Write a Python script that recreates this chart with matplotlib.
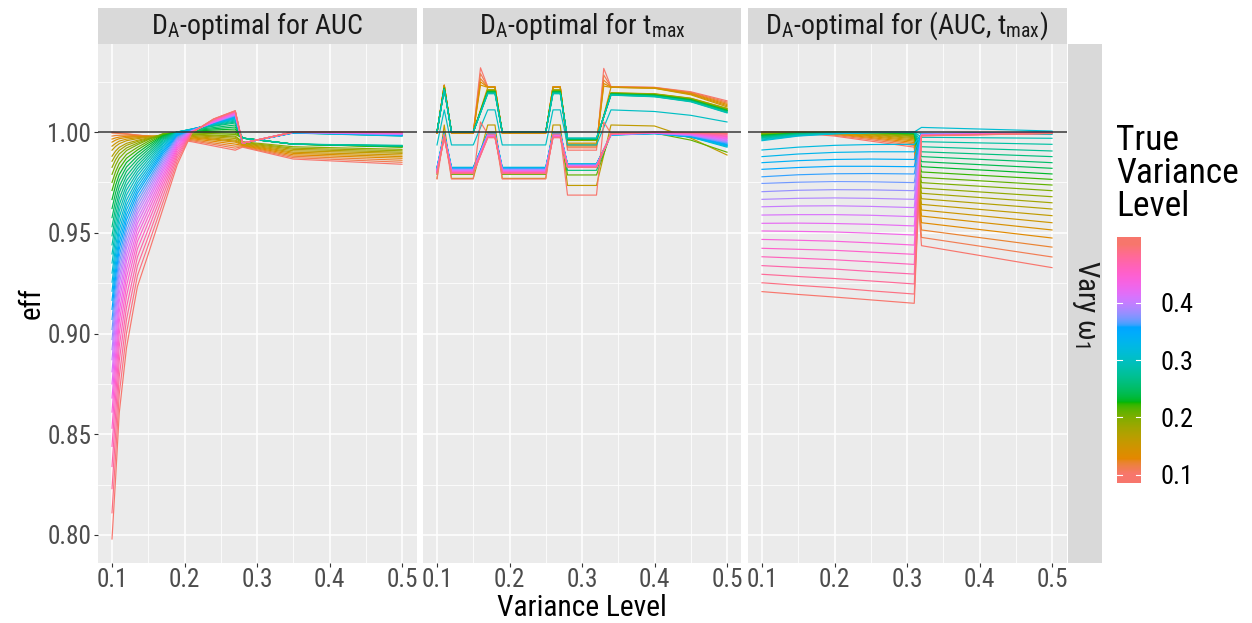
import numpy as np
import matplotlib
matplotlib.use("Agg")
import matplotlib.pyplot as plt
from matplotlib import font_manager
from matplotlib.ticker import FixedLocator

# prefer a condensed sans face when one is installed
family, stretch = "Liberation Sans", "normal"
for pref in ["Liberation Sans Narrow", "Roboto Condensed", "Noto Sans", "DejaVu Sans", "Open Sans"]:
    hits = [f for f in font_manager.fontManager.ttflist
            if f.name.startswith(pref) and f.style == "normal"
            and (f.stretch in ("condensed", "semi-condensed") or "Narrow" in f.name or "Condensed" in f.name)]
    if hits:
        family, stretch = hits[0].name, hits[0].stretch
        break
plt.rcParams["font.family"] = [family, "Liberation Sans", "DejaVu Sans"]
plt.rcParams["font.stretch"] = stretch
plt.rcParams["mathtext.fontset"] = "stix"

# true variance levels, one line per level in every panel
true_levels = [0.10, 0.11, 0.12, 0.13, 0.14, 0.15, 0.16, 0.17, 0.18, 0.19,
               0.20, 0.21, 0.22, 0.23, 0.24, 0.25, 0.26, 0.27, 0.28, 0.29,
               0.30, 0.31, 0.32, 0.33, 0.34, 0.35, 0.36, 0.37, 0.38, 0.39,
               0.40, 0.41, 0.42, 0.43, 0.44, 0.45, 0.46, 0.47, 0.48, 0.49, 0.50]

# D_A-optimal for AUC: efficiency at each design variance level
auc_x = [0.10, 0.105, 0.11, 0.12, 0.135, 0.15, 0.17, 0.19, 0.21, 0.24, 0.27, 0.28, 0.35, 0.50]
auc_eff = [
    [1.0, 0.9998, 0.9996, 0.9992, 0.9985, 0.9979, 0.997, 0.9962, 0.9952, 0.9931, 0.991, 0.9925, 0.9866, 0.984],
    [0.9995, 0.9994, 0.9993, 0.999, 0.9985, 0.998, 0.9973, 0.9966, 0.9957, 0.9939, 0.992, 0.9928, 0.9873, 0.985],
    [0.998, 0.9983, 0.9984, 0.9985, 0.9982, 0.998, 0.9976, 0.997, 0.9962, 0.9946, 0.993, 0.9931, 0.988, 0.986],
    [0.9965, 0.9971, 0.9975, 0.9979, 0.9979, 0.9979, 0.9978, 0.9974, 0.9967, 0.9954, 0.994, 0.9934, 0.9887, 0.987],
    [0.995, 0.996, 0.9967, 0.9973, 0.9976, 0.9979, 0.9981, 0.9978, 0.9971, 0.9961, 0.995, 0.9937, 0.9894, 0.9878],
    [0.993, 0.9944, 0.9955, 0.9965, 0.9972, 0.9977, 0.9982, 0.9981, 0.9975, 0.9965, 0.9955, 0.994, 0.99, 0.9886],
    [0.991, 0.9929, 0.9942, 0.9957, 0.9967, 0.9975, 0.9984, 0.9984, 0.9979, 0.997, 0.996, 0.9943, 0.9907, 0.9894],
    [0.988, 0.9906, 0.9924, 0.9944, 0.9959, 0.9971, 0.9985, 0.9987, 0.9983, 0.9976, 0.9968, 0.9946, 0.9914, 0.99],
    [0.9855, 0.9886, 0.9909, 0.9934, 0.9953, 0.9968, 0.9986, 0.999, 0.9987, 0.9981, 0.9975, 0.9949, 0.992, 0.9907],
    [0.9825, 0.9863, 0.9891, 0.9921, 0.9945, 0.9965, 0.9988, 0.9993, 0.999, 0.9985, 0.998, 0.9952, 0.9927, 0.9914],
    [0.979, 0.9836, 0.987, 0.9908, 0.9937, 0.9962, 0.9992, 0.9997, 0.9995, 0.9992, 0.9988, 0.997, 0.994, 0.9925],
    [0.975, 0.9804, 0.9844, 0.9889, 0.9924, 0.9954, 0.9989, 0.9999, 0.9998, 0.9997, 0.9995, 0.997, 0.994, 0.9926],
    [0.971, 0.9772, 0.9818, 0.987, 0.9911, 0.9945, 0.9985, 0.9999, 1.0001, 1.0003, 1.0005, 0.997, 0.994, 0.9927],
    [0.9665, 0.9736, 0.9789, 0.9849, 0.9896, 0.9935, 0.9981, 1.0, 1.0004, 1.001, 1.0015, 0.997, 0.994, 0.9928],
    [0.962, 0.9699, 0.976, 0.9827, 0.9881, 0.9924, 0.9977, 1.0, 1.0007, 1.0016, 1.0025, 0.997, 0.994, 0.9929],
    [0.9575, 0.9662, 0.973, 0.9805, 0.9865, 0.9913, 0.9972, 1.0, 1.001, 1.0022, 1.0035, 0.997, 0.994, 0.993],
    [0.953, 0.9625, 0.97, 0.9782, 0.9849, 0.9901, 0.9966, 1.0, 1.0012, 1.0029, 1.0045, 0.997, 0.994, 0.9931],
    [0.9485, 0.9588, 0.967, 0.9759, 0.9833, 0.9889, 0.996, 1.0, 1.0013, 1.0032, 1.005, 0.997, 0.994, 0.9932],
    [0.944, 0.955, 0.9639, 0.9736, 0.9817, 0.9877, 0.9953, 1.0, 1.0014, 1.0035, 1.0055, 0.997, 0.994, 0.9934],
    [0.9395, 0.9512, 0.9609, 0.9712, 0.98, 0.9864, 0.9946, 1.0, 1.0015, 1.0038, 1.006, 0.9945, 0.9995, 0.998],
    [0.935, 0.9474, 0.9578, 0.9688, 0.9783, 0.985, 0.9939, 1.0, 1.0015, 1.004, 1.0065, 0.9945, 0.9996, 0.9981],
    [0.93, 0.9432, 0.9544, 0.9662, 0.9764, 0.9836, 0.993, 0.9997, 1.0014, 1.0041, 1.0068, 0.9945, 0.9996, 0.9982],
    [0.9255, 0.9394, 0.9513, 0.9638, 0.9747, 0.9822, 0.9922, 0.9994, 1.0013, 1.0042, 1.007, 0.9945, 0.9996, 0.9983],
    [0.921, 0.9355, 0.9482, 0.9614, 0.973, 0.9808, 0.9912, 0.9991, 1.0012, 1.0043, 1.0073, 0.9945, 0.9997, 0.9984],
    [0.9165, 0.9317, 0.9451, 0.9589, 0.9712, 0.9794, 0.9903, 0.9987, 1.001, 1.0044, 1.0076, 0.9945, 0.9997, 0.9985],
    [0.912, 0.9278, 0.9419, 0.9564, 0.9695, 0.978, 0.9893, 0.9982, 1.0009, 1.0045, 1.0078, 0.9945, 0.9997, 0.9986],
    [0.907, 0.9236, 0.9384, 0.9537, 0.9675, 0.9763, 0.9881, 0.9978, 1.0008, 1.0046, 1.008, 0.9945, 0.9998, 0.9987],
    [0.902, 0.9193, 0.9349, 0.9509, 0.9655, 0.9747, 0.9869, 0.9973, 1.0007, 1.0047, 1.0082, 0.9945, 0.9998, 0.9988],
    [0.897, 0.9149, 0.9314, 0.9481, 0.9635, 0.973, 0.9857, 0.9967, 1.0006, 1.0048, 1.0084, 0.9945, 0.9998, 0.9989],
    [0.892, 0.9106, 0.9279, 0.9452, 0.9614, 0.9713, 0.9844, 0.9961, 1.0005, 1.0049, 1.0086, 0.9945, 0.9999, 0.999],
    [0.887, 0.9062, 0.9243, 0.9424, 0.9593, 0.9695, 0.9831, 0.9955, 1.0005, 1.005, 1.0088, 0.9945, 0.9999, 0.9991],
    [0.881, 0.901, 0.92, 0.9391, 0.9569, 0.9675, 0.9817, 0.9948, 1.0004, 1.0049, 1.009, 0.9945, 0.9999, 0.9992],
    [0.875, 0.8958, 0.9158, 0.9358, 0.9545, 0.9655, 0.9803, 0.994, 1.0003, 1.0051, 1.0092, 0.9945, 0.9999, 0.9993],
    [0.868, 0.8897, 0.9108, 0.9319, 0.9517, 0.9632, 0.9786, 0.9931, 1.0002, 1.0053, 1.0094, 0.9945, 1.0, 0.9994],
    [0.861, 0.8835, 0.9058, 0.928, 0.9488, 0.9608, 0.9769, 0.9922, 1.0001, 1.0055, 1.0096, 0.9945, 1.0, 0.9995],
    [0.853, 0.8765, 0.9, 0.9236, 0.9456, 0.9581, 0.975, 0.9912, 1.0, 1.0057, 1.0098, 0.9945, 1.0, 0.9996],
    [0.844, 0.8687, 0.8936, 0.9186, 0.942, 0.9551, 0.9729, 0.99, 0.9999, 1.0059, 1.01, 0.9945, 1.0, 0.9997],
    [0.834, 0.8599, 0.8865, 0.913, 0.9379, 0.9517, 0.9705, 0.9887, 0.9998, 1.0061, 1.0102, 0.9945, 1.0, 0.9998],
    [0.823, 0.8503, 0.8786, 0.9069, 0.9335, 0.948, 0.9678, 0.9873, 0.9997, 1.0063, 1.0104, 0.9945, 1.0, 0.9999],
    [0.811, 0.8397, 0.87, 0.9002, 0.9286, 0.9439, 0.9648, 0.9856, 0.9996, 1.0064, 1.0105, 0.9945, 1.0, 1.0],
    [0.798, 0.8283, 0.8606, 0.8929, 0.9232, 0.9394, 0.9616, 0.9838, 0.9995, 1.0065, 1.0106, 0.9945, 1.0, 1.0],
]

# D_A-optimal for t_max
tmax_x = [0.10, 0.11, 0.12, 0.15, 0.16, 0.17, 0.18, 0.19, 0.25, 0.26, 0.27, 0.28, 0.32, 0.33, 0.34, 0.40, 0.45, 0.50]
tmax_eff = [
    [0.9994, 1.0233, 0.9994, 0.9994, 1.0319, 1.0225, 1.0225, 0.9994, 0.9994, 1.0225, 1.0225, 0.991, 0.991, 1.0316, 1.0225, 1.0222, 1.02, 1.0155],
    [0.9994, 1.0233, 0.9994, 0.9994, 1.029, 1.0225, 1.0225, 0.9994, 0.9994, 1.0225, 1.0225, 0.9922, 0.9922, 1.0283, 1.0225, 1.0221, 1.0197, 1.0149],
    [0.9995, 1.0232, 0.9995, 0.9995, 1.0265, 1.0224, 1.0224, 0.9995, 0.9995, 1.0224, 1.0224, 0.993, 0.993, 1.0258, 1.0224, 1.022, 1.0194, 1.0143],
    [0.9995, 1.0232, 0.9995, 0.9995, 1.0249, 1.0223, 1.0223, 0.9995, 0.9995, 1.0223, 1.0223, 0.9935, 0.9935, 1.0241, 1.0223, 1.0219, 1.0191, 1.0137],
    [0.9996, 1.0231, 0.9996, 0.9996, 1.0233, 1.0222, 1.0222, 0.9996, 0.9996, 1.0222, 1.0222, 0.994, 0.994, 1.0228, 1.0222, 1.0218, 1.0188, 1.0131],
    [0.9996, 1.0231, 0.9996, 0.9996, 1.011, 1.0222, 1.0222, 0.9996, 0.9996, 1.0222, 1.0222, 0.9945, 0.9945, 1.0083, 1.0222, 1.0217, 1.0185, 1.0125],
    [0.977, 1.0035, 0.977, 0.977, 0.9902, 1.0035, 1.0035, 0.977, 0.977, 1.0035, 1.0035, 0.9735, 0.9735, 0.9885, 1.0035, 1.003, 0.997, 0.9886],
    [1.0, 1.0222, 1.0, 1.0, 1.0105, 1.021, 1.021, 1.0, 1.0, 1.021, 1.021, 0.9958, 0.9958, 1.0077, 1.0195, 1.019, 1.0168, 1.0118],
    [1.0, 1.0221, 1.0, 1.0, 1.0104, 1.0208, 1.0208, 1.0, 1.0, 1.0208, 1.0208, 0.9959, 0.9959, 1.0077, 1.0194, 1.0189, 1.0167, 1.0116],
    [1.0, 1.022, 1.0, 1.0, 1.0104, 1.0207, 1.0207, 1.0, 1.0, 1.0207, 1.0207, 0.996, 0.996, 1.0077, 1.0193, 1.0188, 1.0165, 1.0114],
    [1.0, 1.0219, 1.0, 1.0, 1.0103, 1.0205, 1.0205, 1.0, 1.0, 1.0205, 1.0205, 0.9961, 0.9961, 1.0077, 1.0192, 1.0186, 1.0164, 1.0112],
    [0.979, 1.0, 0.979, 0.979, 0.9895, 1.0, 1.0, 0.979, 0.979, 1.0, 1.0, 0.9787, 0.9787, 0.9891, 0.9995, 0.9995, 0.996, 0.99],
    [1.0, 1.0217, 1.0, 1.0, 1.0101, 1.0202, 1.0202, 1.0, 1.0, 1.0202, 1.0202, 0.9963, 0.9963, 1.0077, 1.019, 1.0184, 1.0161, 1.0108],
    [1.0, 1.0216, 1.0, 1.0, 1.01, 1.02, 1.02, 1.0, 1.0, 1.02, 1.02, 0.9964, 0.9964, 1.0076, 1.0189, 1.0183, 1.0159, 1.0107],
    [1.0, 1.0215, 1.0, 1.0, 1.0099, 1.0198, 1.0198, 1.0, 1.0, 1.0198, 1.0198, 0.9965, 0.9965, 1.0076, 1.0188, 1.0181, 1.0158, 1.0105],
    [1.0, 1.0214, 1.0, 1.0, 1.0099, 1.0197, 1.0197, 1.0, 1.0, 1.0197, 1.0197, 0.9966, 0.9966, 1.0076, 1.0187, 1.018, 1.0156, 1.0103],
    [0.9805, 0.9995, 0.9805, 0.9805, 0.99, 0.9995, 0.9995, 0.9805, 0.9805, 0.9995, 0.9995, 0.981, 0.981, 0.9902, 0.9995, 0.9995, 0.9975, 0.9935],
    [1.0, 1.0212, 1.0, 1.0, 1.0097, 1.0193, 1.0193, 1.0, 1.0, 1.0193, 1.0193, 0.9968, 0.9968, 1.0076, 1.0185, 1.0178, 1.0153, 1.0099],
    [1.0, 1.0211, 1.0, 1.0, 1.0096, 1.0192, 1.0192, 1.0, 1.0, 1.0192, 1.0192, 0.9969, 0.9969, 1.0076, 1.0184, 1.0176, 1.0152, 1.0097],
    [1.0, 1.021, 1.0, 1.0, 1.0095, 1.019, 1.019, 1.0, 1.0, 1.019, 1.019, 0.997, 0.997, 1.0077, 1.0183, 1.0175, 1.015, 1.0095],
    [0.9936, 1.011, 0.9936, 0.9936, 1.0023, 1.011, 1.011, 0.9936, 0.9936, 1.011, 1.011, 0.9936, 0.9936, 1.0023, 1.011, 1.0102, 1.0083, 1.005],
    [0.9825, 0.9995, 0.9825, 0.9825, 0.991, 0.9995, 0.9995, 0.9825, 0.9825, 0.9995, 0.9995, 0.9842, 0.9842, 0.9914, 0.9985, 0.9992, 0.9975, 0.9925],
    [0.9823, 0.9994, 0.9823, 0.9823, 0.9909, 0.9994, 0.9994, 0.9823, 0.9823, 0.9994, 0.9994, 0.9841, 0.9841, 0.9913, 0.9985, 0.9992, 0.9976, 0.9929],
    [0.9822, 0.9992, 0.9822, 0.9822, 0.9907, 0.9992, 0.9992, 0.9822, 0.9822, 0.9992, 0.9992, 0.984, 0.984, 0.9913, 0.9986, 0.9993, 0.9978, 0.9932],
    [0.982, 0.9991, 0.982, 0.982, 0.9906, 0.9991, 0.9991, 0.982, 0.982, 0.9991, 0.9991, 0.9839, 0.9839, 0.9913, 0.9986, 0.9993, 0.9979, 0.9936],
    [0.9818, 0.999, 0.9818, 0.9818, 0.9904, 0.999, 0.999, 0.9818, 0.9818, 0.999, 0.999, 0.9838, 0.9838, 0.9913, 0.9987, 0.9994, 0.998, 0.994],
    [0.9817, 0.9989, 0.9817, 0.9817, 0.9903, 0.9989, 0.9989, 0.9817, 0.9817, 0.9989, 0.9989, 0.9837, 0.9837, 0.9912, 0.9987, 0.9994, 0.9982, 0.9944],
    [0.9815, 0.9987, 0.9815, 0.9815, 0.9901, 0.9987, 0.9987, 0.9815, 0.9815, 0.9987, 0.9987, 0.9836, 0.9836, 0.9912, 0.9987, 0.9994, 0.9983, 0.9947],
    [0.9813, 0.9986, 0.9813, 0.9813, 0.99, 0.9986, 0.9986, 0.9813, 0.9813, 0.9986, 0.9986, 0.9835, 0.9835, 0.9912, 0.9988, 0.9995, 0.9984, 0.9951],
    [0.9811, 0.9985, 0.9811, 0.9811, 0.9898, 0.9985, 0.9985, 0.9811, 0.9811, 0.9985, 0.9985, 0.9834, 0.9834, 0.9911, 0.9988, 0.9995, 0.9985, 0.9955],
    [0.981, 0.9983, 0.981, 0.981, 0.9897, 0.9983, 0.9983, 0.981, 0.981, 0.9983, 0.9983, 0.9833, 0.9833, 0.9911, 0.9989, 0.9996, 0.9987, 0.9958],
    [0.9808, 0.9982, 0.9808, 0.9808, 0.9895, 0.9982, 0.9982, 0.9808, 0.9808, 0.9982, 0.9982, 0.9832, 0.9832, 0.9911, 0.9989, 0.9996, 0.9988, 0.9962],
    [0.9806, 0.9981, 0.9806, 0.9806, 0.9894, 0.9981, 0.9981, 0.9806, 0.9806, 0.9981, 0.9981, 0.9831, 0.9831, 0.991, 0.9989, 0.9996, 0.9989, 0.9966],
    [0.9805, 0.9979, 0.9805, 0.9805, 0.9892, 0.9979, 0.9979, 0.9805, 0.9805, 0.9979, 0.9979, 0.983, 0.983, 0.991, 0.999, 0.9997, 0.9991, 0.9969],
    [0.9803, 0.9978, 0.9803, 0.9803, 0.9891, 0.9978, 0.9978, 0.9803, 0.9803, 0.9978, 0.9978, 0.9829, 0.9829, 0.991, 0.999, 0.9997, 0.9992, 0.9973],
    [0.9801, 0.9977, 0.9801, 0.9801, 0.9889, 0.9977, 0.9977, 0.9801, 0.9801, 0.9977, 0.9977, 0.9828, 0.9828, 0.991, 0.9991, 0.9998, 0.9993, 0.9977],
    [0.9799, 0.9976, 0.9799, 0.9799, 0.9888, 0.9976, 0.9976, 0.9799, 0.9799, 0.9976, 0.9976, 0.9827, 0.9827, 0.9909, 0.9991, 0.9998, 0.9995, 0.998],
    [0.9798, 0.9974, 0.9798, 0.9798, 0.9886, 0.9974, 0.9974, 0.9798, 0.9798, 0.9974, 0.9974, 0.9826, 0.9826, 0.9909, 0.9991, 0.9998, 0.9996, 0.9984],
    [0.9796, 0.9973, 0.9796, 0.9796, 0.9885, 0.9973, 0.9973, 0.9796, 0.9796, 0.9973, 0.9973, 0.9825, 0.9825, 0.9909, 0.9992, 0.9999, 0.9997, 0.9988],
    [0.9794, 0.9972, 0.9794, 0.9794, 0.9883, 0.9972, 0.9972, 0.9794, 0.9794, 0.9972, 0.9972, 0.9824, 0.9824, 0.9908, 0.9992, 0.9999, 0.9998, 0.9992],
    [0.9767, 0.999, 0.9767, 0.9767, 1.005, 0.999, 0.999, 0.9767, 0.9767, 0.999, 0.999, 0.9687, 0.9687, 1.005, 0.9993, 1.0, 0.9997, 0.9995],
]

# D_A-optimal for (AUC, t_max)
both_x = [0.10, 0.15, 0.20, 0.25, 0.31, 0.32, 0.50]
both_eff = [
    [1.0, 0.9995, 0.998, 0.9955, 0.9925, 0.9436, 0.9327],
    [1.0, 0.9997, 0.9984, 0.9962, 0.9933, 0.9477, 0.938],
    [0.9999, 0.9998, 0.9988, 0.9968, 0.9941, 0.9514, 0.9429],
    [0.9999, 0.9999, 0.9991, 0.9973, 0.9948, 0.955, 0.9474],
    [0.9998, 1.0, 0.9993, 0.9978, 0.9955, 0.9583, 0.9514],
    [0.9997, 1.0, 0.9995, 0.9982, 0.9961, 0.9613, 0.955],
    [0.9996, 1.0, 0.9997, 0.9986, 0.9967, 0.9641, 0.9585],
    [0.9995, 0.9999, 0.9998, 0.9989, 0.9972, 0.9669, 0.9618],
    [0.9993, 0.9999, 0.9999, 0.9992, 0.9977, 0.9696, 0.9649],
    [0.9991, 0.9998, 1.0, 0.9994, 0.9981, 0.9722, 0.9679],
    [0.9989, 0.9997, 1.0, 0.9996, 0.9985, 0.9749, 0.9709],
    [0.9987, 0.9996, 1.0, 0.9997, 0.9988, 0.9775, 0.9737],
    [0.9985, 0.9995, 0.9999, 0.9998, 0.9991, 0.9802, 0.9765],
    [0.9983, 0.9994, 0.9999, 0.9999, 0.9993, 0.9828, 0.9792],
    [0.9981, 0.9993, 0.9998, 1.0, 0.9995, 0.9853, 0.982],
    [0.9978, 0.9992, 0.9997, 1.0, 0.9997, 0.9878, 0.9848],
    [0.9975, 0.999, 0.9996, 1.0, 0.9998, 0.9902, 0.9878],
    [0.9972, 0.9988, 0.9995, 0.9999, 0.9999, 0.9927, 0.9906],
    [0.9969, 0.9986, 0.9994, 0.9999, 1.0, 0.9952, 0.9939],
    [0.9965, 0.9984, 0.9993, 0.9998, 1.0, 0.9974, 0.9969],
    [0.9961, 0.9982, 0.9992, 0.9997, 1.0, 0.9993, 0.9988],
    [0.9957, 0.998, 0.9991, 0.9996, 1.0, 1.0023, 1.0005],
    [0.9911, 0.9925, 0.9934, 0.9938, 0.9939, 0.9992, 1.0],
    [0.9878, 0.9891, 0.9899, 0.9902, 0.9902, 0.9991, 1.0],
    [0.9848, 0.9858, 0.9864, 0.9866, 0.9864, 0.9991, 0.9999],
    [0.9815, 0.9824, 0.983, 0.983, 0.9828, 0.999, 0.9999],
    [0.9778, 0.9788, 0.9793, 0.9794, 0.9792, 0.999, 0.9998],
    [0.9745, 0.9751, 0.9754, 0.9753, 0.9749, 0.9989, 0.9998],
    [0.9704, 0.9711, 0.9714, 0.9713, 0.9709, 0.9988, 0.9998],
    [0.9666, 0.9671, 0.9673, 0.9671, 0.9666, 0.9988, 0.9997],
    [0.9629, 0.9633, 0.9634, 0.9631, 0.9625, 0.9987, 0.9997],
    [0.9588, 0.959, 0.959, 0.9587, 0.958, 0.9987, 0.9996],
    [0.9547, 0.9548, 0.9546, 0.9542, 0.9534, 0.9986, 0.9996],
    [0.9509, 0.9507, 0.9504, 0.9498, 0.9489, 0.9985, 0.9996],
    [0.9467, 0.9463, 0.9458, 0.945, 0.9439, 0.9985, 0.9995],
    [0.9423, 0.9418, 0.9413, 0.9404, 0.9393, 0.9984, 0.9995],
    [0.9381, 0.9374, 0.9366, 0.9356, 0.9343, 0.9984, 0.9994],
    [0.9337, 0.9328, 0.932, 0.9308, 0.9295, 0.9983, 0.9994],
    [0.9294, 0.9283, 0.9273, 0.9261, 0.9246, 0.9982, 0.9994],
    [0.9252, 0.9239, 0.9227, 0.9212, 0.9196, 0.9982, 0.9993],
    [0.9208, 0.9194, 0.9181, 0.9167, 0.915, 0.9981, 0.9993],
]

panel_titles = [r"D$_\mathregular{A}$-optimal for AUC",
                r"D$_\mathregular{A}$-optimal for t$_\mathregular{max}$",
                r"D$_\mathregular{A}$-optimal for (AUC, t$_\mathregular{max}$)"]
x_ticks = [0.1, 0.2, 0.3, 0.4, 0.5]
y_ticks = [0.80, 0.85, 0.90, 0.95, 1.00]
legend_ticks = [0.1, 0.2, 0.3, 0.4]


def hcl_colour(h, c=100.0, l=65.0):
    # polar CIE-Luv -> sRGB, D65 white
    hr = np.deg2rad(h)
    u, v = c * np.cos(hr), c * np.sin(hr)
    y = ((l + 16.0) / 116.0) ** 3
    up = u / (13 * l) + 0.1978398
    vp = v / (13 * l) + 0.4683363
    x = 9.0 * y * up / (4.0 * vp)
    z = y * (12.0 - 3.0 * up - 20.0 * vp) / (4.0 * vp)
    m = np.array([[3.240479, -1.537150, -0.498535],
                  [-0.969256, 1.875992, 0.041556],
                  [0.055648, -0.204043, 1.057311]])
    lin = m @ np.array([x, y, z])
    rgb = np.where(lin > 0.0031308, 1.055 * np.abs(lin) ** (1 / 2.4) - 0.055, 12.92 * lin)
    return tuple(np.clip(rgb, 0, 1))


def level_colour(t):
    t = min(max(t, 0.1), 0.5)
    return hcl_colour(15 + 360 * (t - 0.1) / 0.4)


W, H = 1252, 623
fig = plt.figure(figsize=(W / 100, H / 100), dpi=100)


def px_box(left, top, right, bottom):
    return [left / W, 1 - bottom / H, (right - left) / W, (bottom - top) / H]


def blank(ax, colour):
    ax.set_facecolor(colour)
    ax.set_xticks([])
    ax.set_yticks([])
    for s in ax.spines.values():
        s.set_visible(False)


panel_data = [(auc_x, auc_eff), (tmax_x, tmax_eff), (both_x, both_eff)]
lefts = [97.5, 422.5, 747.5]
panel_axes, strip_texts = [], []
for i, ((xs, rows), left, title) in enumerate(zip(panel_data, lefts, panel_titles)):
    ax = fig.add_axes(px_box(left, 44, left + 319, 563))
    ax.set_facecolor("#EBEBEB")
    for s in ax.spines.values():
        s.set_visible(False)
    ax.set_xlim(0.08, 0.52)
    ax.set_ylim(0.7861, 1.0437)
    ax.xaxis.set_major_locator(FixedLocator(x_ticks))
    ax.xaxis.set_minor_locator(FixedLocator([0.15, 0.25, 0.35, 0.45]))
    ax.yaxis.set_major_locator(FixedLocator(y_ticks))
    ax.yaxis.set_minor_locator(FixedLocator([0.825, 0.875, 0.925, 0.975, 1.025]))
    ax.set_axisbelow(True)
    ax.grid(which="major", color="white", lw=1.1)
    ax.grid(which="minor", color="white", lw=0.55)
    ax.tick_params(which="minor", length=0)
    ax.tick_params(which="major", length=3.0, width=0.8, color="#333333",
                   labelcolor="#4D4D4D", labelsize=17.6, pad=0.5)
    ax.set_xticklabels(["%.1f" % v for v in x_ticks])
    if i == 0:
        ax.set_yticklabels(["%.2f" % v for v in y_ticks])
        ax.tick_params(axis="y", pad=1.5)
    else:
        ax.tick_params(axis="y", left=False, labelleft=False)

    for t, row in zip(true_levels, rows):
        ax.plot(xs, row, color=level_colour(t), lw=0.85)
    ax.axhline(1.0, color="#333333", lw=1.1)
    panel_axes.append(ax)

    strip = fig.add_axes(px_box(left, 8, left + 319, 44))
    blank(strip, "#D9D9D9")
    strip_texts.append(strip.text(0.5, 0.5, title, ha="center", va="center", fontsize=17.6,
                                  color="#1A1A1A", transform=strip.transAxes))

# facet label on the right
rstrip = fig.add_axes(px_box(1068, 44, 1102, 563))
blank(rstrip, "#D9D9D9")
row_label = rstrip.text(0.5, 0.5, r"Vary ω$_\mathregular{1}$", rotation=-90, ha="center",
                        va="center", fontsize=17.6, color="#1A1A1A", transform=rstrip.transAxes)

x_title = fig.text(582 / W, 1.0 / H, "Variance Level", ha="center", va="bottom", fontsize=22)
y_title = fig.text(32 / W, 1 - 303 / H, "eff", ha="center", va="center", rotation=90, fontsize=22)

# colour bar legend
leg_title = fig.text(1116 / W, 1 - 124 / H, "True\nVariance\nLevel", ha="left", va="top",
                     fontsize=22, linespacing=1.0)
cb = fig.add_axes(px_box(1117, 237, 1141, 483))
lo, hi = 0.0855, 0.5145
vals = np.linspace(lo, hi, 300)
cb.imshow(np.array([level_colour(v) for v in vals])[:, None, :],
          extent=[0, 1, lo, hi], origin="lower", aspect="auto")
cb.set_xlim(0, 1)
cb.set_ylim(lo, hi)
for s in cb.spines.values():
    s.set_visible(False)
for v in legend_ticks:
    cb.plot([0, 0.2], [v, v], color="white", lw=0.8)
    cb.plot([0.8, 1], [v, v], color="white", lw=0.8)
cb.set_xticks([])
cb.yaxis.tick_right()
cb.set_yticks(legend_ticks)
cb.set_yticklabels(["%.1f" % v for v in legend_ticks])
cb.tick_params(axis="y", length=0, pad=14, labelsize=17.6, labelcolor="black")

# size every text so its printed extent matches the layout in pixels
fig.canvas.draw()
renderer = fig.canvas.get_renderer()


def scaled(text, target, use_height=False):
    bb = text.get_window_extent(renderer)
    return text.get_fontsize() * target / (bb.height if use_height else bb.width)


tick_size = scaled(panel_axes[0].get_xticklabels()[0], 31.5)
for ax in panel_axes:
    ax.tick_params(which="major", labelsize=tick_size)
strip_size = scaled(strip_texts[0], 212)
for t in strip_texts:
    t.set_fontsize(strip_size)
row_label.set_fontsize(scaled(row_label, 88, use_height=True))
x_title.set_fontsize(scaled(x_title, 200))
y_title.set_fontsize(scaled(y_title, 32, use_height=True))
leg_title.set_fontsize(scaled(leg_title, 123))
cb.tick_params(axis="y", labelsize=scaled(cb.get_yticklabels()[3], 33))

# keep the x title in the strip between the tick labels and the bottom edge
fig.canvas.draw()
tick_floor = min(lbl.get_window_extent(renderer).y0
                 for ax in panel_axes for lbl in ax.get_xticklabels())
room = tick_floor - 2.0
bb = x_title.get_window_extent(renderer)
if bb.y1 > room:
    x_title.set_fontsize(x_title.get_fontsize() * (room - bb.y0) / bb.height)

fig.savefig("out.png", dpi=100)
